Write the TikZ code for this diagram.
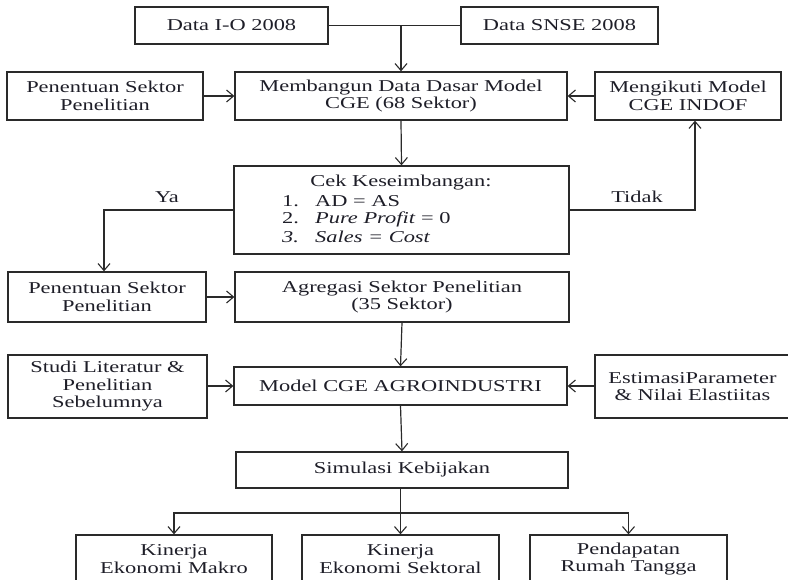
\documentclass[tikz,border=0pt]{standalone}
\usepackage{fontspec}
\setmainfont{Liberation Serif}[FakeStretch=1.35]
\usetikzlibrary{arrows.meta}
\definecolor{ink}{HTML}{1E1E28}
\definecolor{edge}{HTML}{2A2A2A}
\tikzset{
  box/.style={draw=edge, line width=1.3pt, rectangle, inner sep=0pt,
    align=center, text=ink, font=\fontsize{16.6}{17.5}\selectfont},
  txt/.style={inner sep=0pt, text=ink, font=\fontsize{16.6}{17.5}\selectfont},
  link/.style={draw=edge, line width=1.2pt},
  arr/.style={link, -{Straight Barb[length=7pt,width=12pt,line width=1.1pt]}}
}
\begin{document}
\begin{tikzpicture}[x=1pt,y=-1pt]
\useasboundingbox (0,0) rectangle (788,580);
\clip (0,0) rectangle (788,580);

% data sources
\node[box, minimum width=193pt, minimum height=37pt] (io) at (231.5,25.5) {Data I-O 2008};
\node[box, minimum width=197pt, minimum height=37pt] (snse) at (559.5,25.5) {Data SNSE 2008};

% base data row
\node[box, minimum width=332pt, minimum height=48pt] (bangun) at (401,96)
  {Membangun Data Dasar Model\\CGE (68 Sektor)};
\node[box, minimum width=196pt, minimum height=48pt] (pen1) at (105,96)
  {Penentuan Sektor\\Penelitian};
\node[box, minimum width=186pt, minimum height=48pt] (ikut) at (688,96)
  {Mengikuti Model\\CGE INDOF};

% balance check
\node[box, minimum width=335pt, minimum height=88pt] (cek) at (401.5,210) {};
\node[txt] (cektitle) at (401,183) {Cek Keseimbangan:};
\node[txt, anchor=west] (c1) at (282,201) {\makebox[33pt][l]{1.}AD = AS};
\node[txt, anchor=west] (c2) at (282,219) {\makebox[33pt][l]{2.}\textit{Pure Profit} = 0};
\node[txt, anchor=west] (c3) at (282,237) {\itshape\makebox[33pt][l]{3.}Sales = Cost};

% aggregation row
\node[box, minimum width=198pt, minimum height=50pt] (pen2) at (107,297)
  {Penentuan Sektor\\Penelitian};
\node[box, minimum width=334pt, minimum height=50pt] (agr) at (402,297)
  {Agregasi Sektor Penelitian\\(35 Sektor)};

% model row
\node[box, minimum width=199pt, minimum height=63pt] (studi) at (107.5,386.5)
  {Studi Literatur \&\\Penelitian\\Sebelumnya};
\node[box, minimum width=333pt, minimum height=38pt] (model) at (400.5,386)
  {Model CGE AGROINDUSTRI};
\node[box, minimum width=195pt, minimum height=63pt] (estim) at (692.5,386.5)
  {EstimasiParameter\\\& Nilai Elastiitas};

% simulation and outcomes
\node[box, minimum width=332pt, minimum height=36pt] (sim) at (402,470)
  {Simulasi Kebijakan};
\node[box, minimum width=196pt, minimum height=48pt] (makro) at (174,559)
  {Kinerja\\Ekonomi Makro};
\node[box, minimum width=197pt, minimum height=48pt] (sektoral) at (400.5,559)
  {Kinerja\\Ekonomi Sektoral};
\node[box, minimum width=197pt, minimum height=48pt] (rumah) at (628.5,559)
  {Pendapatan\\Rumah Tangga};

% labels on the decision branches
\node[txt] (ya) at (167,197) {Ya};
\node[txt] (tidak) at (637,197) {Tidak};

% connectors
\draw[link] (io.east) -- (snse.west);
\coordinate (join) at (bangun.north |- io.east);
\draw[arr] (join) -- (bangun.north);
\draw[arr] (pen1.east) -- (bangun.west);
\draw[arr] (ikut.west) -- (bangun.east);
\draw[arr] (bangun.south) -- (cek.north);

\coordinate (yacorner) at (104,210);
\draw[arr] (cek.west) -- (yacorner) -- (yacorner |- pen2.north);
\coordinate (tidakcorner) at (695,210);
\draw[arr] (cek.east) -- (tidakcorner) -- (tidakcorner |- ikut.south);

\draw[arr] (pen2.east) -- (agr.west);
\draw[arr] (agr.south) -- (model.north);
\draw[arr] (studi.east |- model.west) -- (model.west);
\draw[arr] (estim.west |- model.east) -- (model.east);
\draw[arr] (model.south) -- (sim.north);

\coordinate (split) at (400.5,513);
\draw[arr] (sim.south -| sektoral.north) -- (sektoral.north);
\draw[arr] (split) -| (makro.north);
\draw[arr] (split) -| (rumah.north);
\end{tikzpicture}
\end{document}
